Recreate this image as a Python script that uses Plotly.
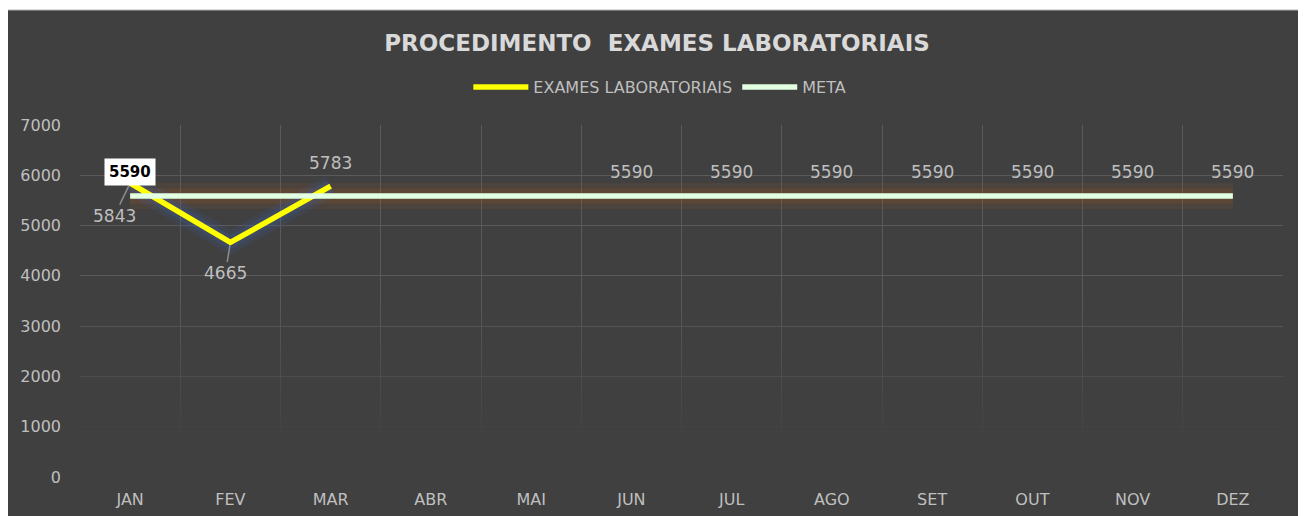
import plotly.graph_objects as go

# dados do gráfico
meses = ["JAN", "FEV", "MAR", "ABR", "MAI", "JUN", "JUL", "AGO", "SET", "OUT", "NOV", "DEZ"]
exames = [5843, 4665, 5783]
meta = [5590] * 12
# rótulos da meta que aparecem no gráfico original (FEV a MAI ficaram ocultos)
meta_rotulos = ["JAN", "JUN", "JUL", "AGO", "SET", "OUT", "NOV", "DEZ"]

cinza_texto = "#bfbfbf"
fundo = "#404040"
fonte = "DejaVu Sans"

fig = go.Figure()

# esmaecimento da grade na parte de baixo (efeito do Excel)
fig.add_trace(go.Scatter(
    x=[0, 1, 1, 0, 0], y=[0, 0, 3600, 3600, 0], xaxis="x2", mode="lines", fill="toself",
    line=dict(width=0), showlegend=False, hoverinfo="skip",
    fillgradient=dict(type="vertical", start=600, stop=3600,
                      colorscale=[[0, "rgba(64,64,64,1)"], [1, "rgba(64,64,64,0)"]]),
))

# brilho por baixo das linhas
fig.add_trace(go.Scatter(x=meses, y=meta, mode="lines", showlegend=False, hoverinfo="skip",
                         line=dict(color="rgba(190,95,30,0.10)", width=26)))
fig.add_trace(go.Scatter(x=meses, y=meta, mode="lines", showlegend=False, hoverinfo="skip",
                         line=dict(color="rgba(190,95,30,0.15)", width=15)))
fig.add_trace(go.Scatter(x=meses[:len(exames)], y=exames, mode="lines", showlegend=False,
                         hoverinfo="skip", line=dict(color="rgba(60,95,170,0.15)", width=22)))
fig.add_trace(go.Scatter(x=meses[:len(exames)], y=exames, mode="lines", showlegend=False,
                         hoverinfo="skip", line=dict(color="rgba(60,95,170,0.22)", width=13)))

# séries principais
fig.add_trace(go.Scatter(x=meses[:len(exames)], y=exames, mode="lines", name="EXAMES LABORATORIAIS",
                         line=dict(color="#ffff00", width=5.5)))
fig.add_trace(go.Scatter(x=meses, y=meta, mode="lines", name="META",
                         line=dict(color="#e2ffe2", width=5.5)))

# rótulos da série de exames
desloc = {"JAN": (-16, 33), "FEV": (-5, 31)}
for mes, valor in zip(meses, exames):
    if mes in desloc:
        ax, ay = desloc[mes]
        fig.add_annotation(x=mes, y=valor, text=str(valor), showarrow=True, arrowhead=0,
                           arrowwidth=1.5, arrowcolor="#8c8c8c", ax=ax, ay=ay, standoff=3,
                           font=dict(color=cinza_texto, size=17, family=fonte))
    else:
        fig.add_annotation(x=mes, y=valor, text=str(valor), showarrow=False, yshift=23,
                           font=dict(color=cinza_texto, size=17, family=fonte))

# rótulos da meta
for mes, valor in zip(meses, meta):
    if mes not in meta_rotulos:
        continue
    if mes == "JAN":
        fig.add_annotation(x=mes, y=valor, text="<b>%d</b>" % valor, showarrow=False, yshift=24,
                           bgcolor="white", borderpad=4,
                           font=dict(color="black", size=15, family=fonte))
    else:
        fig.add_annotation(x=mes, y=valor, text=str(valor), showarrow=False, yshift=24,
                           font=dict(color=cinza_texto, size=17, family=fonte))

# fundo escuro com a faixa branca em cima/esquerda
fig.add_shape(type="rect", xref="paper", yref="paper", x0=-0.0623, x1=1.02, y0=-0.12, y1=1.327,
              fillcolor=fundo, line=dict(color="#c8c8c8", width=1), layer="below")

fig.update_layout(
    width=1298,
    height=508,
    margin=dict(l=72, r=23, t=117, b=39, autoexpand=False),
    paper_bgcolor="white",
    plot_bgcolor="rgba(0,0,0,0)",
    title=dict(text="<b>PROCEDIMENTO  EXAMES LABORATORIAIS</b>", x=0.5, xanchor="center",
               y=0.931, yanchor="middle", font=dict(color="#d9d9d9", size=23, family=fonte)),
    legend=dict(orientation="h", x=0.482, xanchor="center", y=1.108, yanchor="middle",
                itemwidth=55, font=dict(color=cinza_texto, size=16, family=fonte),
                bgcolor="rgba(0,0,0,0)"),
    font=dict(family=fonte, color=cinza_texto),
    xaxis=dict(type="category", range=[-0.5, 11.5], tickson="boundaries", ticks="",
               showgrid=True, gridcolor="#5a5a5a", gridwidth=1, showline=False, zeroline=False,
               automargin=False, ticklabelstandoff=11,
               tickfont=dict(color=cinza_texto, size=16, family=fonte)),
    xaxis2=dict(overlaying="x", range=[0, 1], visible=False, showgrid=False),
    yaxis=dict(range=[0, 7000], dtick=1000, showgrid=True, gridcolor="#5a5a5a", gridwidth=1,
               zeroline=False, showline=False, ticks="", ticklabelstandoff=18, automargin=False,
               tickfont=dict(color=cinza_texto, size=16, family=fonte)),
)

fig.write_html("out.html")
